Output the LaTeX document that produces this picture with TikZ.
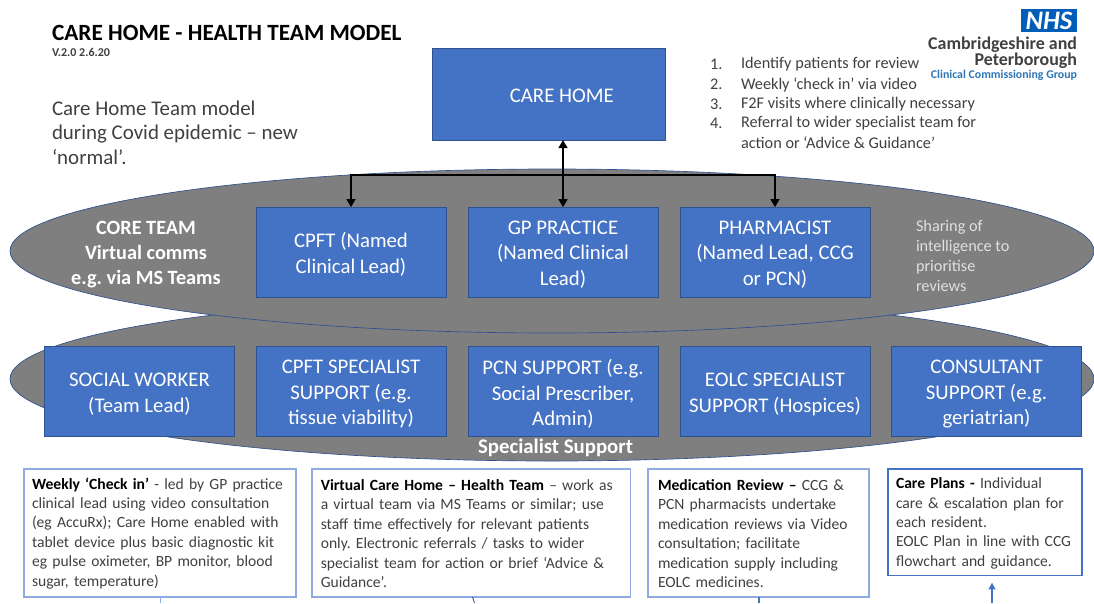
\documentclass[tikz,border=0pt]{standalone}
\usepackage{fontspec}
\setmainfont{Carlito}
\usetikzlibrary{shapes.geometric,arrows.meta,calc}
\definecolor{boxblue}{HTML}{4472C4}
\definecolor{boxedge}{HTML}{2F528F}
\definecolor{oval}{HTML}{7F7F7F}
\definecolor{pale}{HTML}{8FAADC}
\definecolor{body}{HTML}{404040}
\definecolor{ccg}{HTML}{2E75B6}
\definecolor{nhsblue}{HTML}{005EB8}
\newcommand{\boxtext}[2]{\raisebox{#1}[\height][\depth]{\parbox{140pt}{\centering #2}}}
\frenchspacing
\tikzset{
  bluebox/.style={draw=boxedge,line width=0.6pt,fill=boxblue,text=white,align=center,inner sep=0pt,outer sep=0pt,
    minimum width=142.5pt,minimum height=68pt,font=\fontsize{15.6}{19.2}\selectfont},
  team/.style={ellipse,draw=boxedge,line width=0.5pt,fill=oval,inner sep=0pt,outer sep=0pt,minimum width=813pt,minimum height=123pt},
  note/.style={draw=pale,line width=0.9pt,anchor=north west,inner xsep=0pt,inner ysep=0pt,outer sep=0pt,align=left,text=body,
    minimum height=96pt,font=\fontsize{11.7}{14.55}\selectfont},
  ovallabel/.style={text=white,align=center,font=\bfseries\fontsize{15.2}{18.75}\selectfont,inner sep=0pt},
  link/.style={draw=black,line width=2pt,-{Triangle[length=6pt,width=6.5pt]}},
  stub/.style={draw=pale,line width=0.7pt},
  plain/.style={inner sep=0pt,outer sep=0pt,anchor=west,text=body},
  listitem/.style={plain,font=\fontsize{12.2}{14.5}\selectfont},
}
\begin{document}
\begin{tikzpicture}[x=0.75pt,y=-0.75pt]
\useasboundingbox (0,0) rectangle (1094,603);
% ovals
\node[team] (spec) at (552,379) {};
\node[team] (core) at (552,251) {};
% title
\node[plain,text=black,font=\bfseries\fontsize{17.45}{20}\selectfont] (title) at (52,33) {CARE HOME - HEALTH TEAM MODEL};
\node[plain,font=\bfseries\fontsize{9}{10}\selectfont] (ver) at (52,52) {V.2.0 2.6.20};
\node[plain,anchor=north west,align=left,font=\fontsize{15.7}{18.4}\selectfont] (intro) at (52,100.5) {Care Home Team model\\during Covid epidemic – new\\‘normal’.};
% care home
\node[bluebox,minimum width=174.75pt,minimum height=69pt] (care) at (548.5,94) {\raisebox{-1pt}[\height][\depth]{\hspace*{20pt}CARE HOME}};
% list
\node[listitem] (n1) at (710,64) {1.};
\node[listitem] (t1) at (741,64) {Identify patients for review};
\node[listitem] (n2) at (710,84.5) {2.};
\node[listitem] (t2) at (741,84.5) {Weekly ‘check in’ via video};
\node[listitem] (n3) at (710,104) {3.};
\node[listitem] (t3) at (741,104) {F2F visits where clinically necessary};
\node[listitem] (n4) at (710,123.5) {4.};
\node[listitem] (t4) at (741,123.5) {Referral to wider specialist team for};
\node[listitem] (t5) at (741,142.5) {action or ‘Advice \& Guidance’};
% logo
\node[fill=nhsblue,text=white,inner sep=0pt,outer sep=0pt,minimum width=41.6pt,minimum height=17.3pt,font=\bfseries\itshape\fontsize{20}{20}\selectfont] (nhs) at (1049,20.5) {NHS};
\node[plain,anchor=east,font=\bfseries\fontsize{13.45}{14}\selectfont] (cam) at (1077,44.5) {Cambridgeshire and};
\node[plain,anchor=east,font=\bfseries\fontsize{13.45}{14}\selectfont] (pet) at (1077,60.5) {Peterborough};
\node[plain,anchor=east,text=ccg,font=\bfseries\fontsize{8.9}{10}\selectfont] (group) at (1077,75) {Clinical Commissioning Group};
% core team
\node[ovallabel] (corelabel) at (146,255) {CORE TEAM\\Virtual comms\\e.g. via MS Teams};
\node[bluebox] (cpft) at (351,252.5) {\boxtext{-1.5pt}{CPFT (Named\\Clinical Lead)}};
\node[bluebox] (gp) at (563,252.5) {\boxtext{-1.5pt}{GP PRACTICE\\(Named Clinical\\Lead)}};
\node[bluebox] (pharm) at (775,252.5) {\boxtext{-1.5pt}{PHARMACIST\\(Named Lead, CCG\\or PCN)}};
\node[plain,anchor=north west,text=white!88!black,align=left,font=\fontsize{12.2}{15}\selectfont] (share) at (916,220) {Sharing of\\intelligence to\\prioritise\\reviews};
% specialist
\node[bluebox] (social) at (139.5,391.5) {\boxtext{-2pt}{SOCIAL WORKER\\(Team Lead)}};
\node[bluebox] (cspec) at (351,391.5) {\boxtext{-2pt}{CPFT SPECIALIST\\SUPPORT (e.g.\\tissue viability)}};
\node[bluebox] (pcn) at (563,391.5) {\boxtext{-2pt}{PCN SUPPORT (e.g.\\Social Prescriber,\\Admin)}};
\node[bluebox] (eolc) at (775,391.5) {\boxtext{-2pt}{EOLC SPECIALIST\\SUPPORT (Hospices)}};
\node[bluebox] (cons) at (986.5,391.5) {\boxtext{-2pt}{CONSULTANT\\SUPPORT (e.g.\\geriatrian)}};
\node[ovallabel,font=\bfseries\fontsize{15.6}{16}\selectfont] (speclabel) at (555.5,448) {Specialist Support};
% connectors
\coordinate (bar) at (563,175);
\draw[link,{Triangle[length=6pt,width=6.5pt]}-{Triangle[length=6pt,width=6.5pt]}] (gp.north |- care.south) -- (gp.north);
\draw[link] (gp.north |- bar) -- (cpft.north |- bar) -- (cpft.north);
\draw[link] (gp.north |- bar) -- (pharm.north |- bar) -- (pharm.north);
% notes
\node[note,minimum width=204pt,text width=204pt] (n-a) at (24,469) {\hspace*{6pt}\parbox[t]{196pt}{\rule{0pt}{9pt}\textbf{\textcolor{black}{Weekly ‘Check in’}} - led by GP practice\\clinical lead using video consultation\\(eg AccuRx); Care Home enabled with\\tablet device plus basic diagnostic kit\\eg pulse oximeter, BP monitor, blood\\sugar, temperature)}};
\node[note,minimum width=239pt,text width=239pt] (n-b) at (312,469) {\hspace*{6.6pt}\parbox[t]{231pt}{\rule{0pt}{9pt}\textbf{\textcolor{black}{Virtual Care Home – Health Team}} – work as\\a virtual team via MS Teams or similar; use\\staff time effectively for relevant patients\\only. Electronic referrals / tasks to wider\\specialist team for action or brief ‘Advice \&\\Guidance’.}};
\node[note,minimum width=165.75pt,text width=165.75pt] (n-c) at (648,469) {\hspace*{7.5pt}\parbox[t]{158pt}{\rule{0pt}{9pt}\textbf{\textcolor{black}{Medication Review –}} CCG \&\\PCN pharmacists undertake\\medication reviews via Video\\consultation; facilitate\\medication supply including\\EOLC medicines.}};
\node[note,draw=boxblue,minimum width=145.5pt,text width=145.5pt,minimum height=80pt] (n-d) at (888,469) {\hspace*{6pt}\parbox[t]{138pt}{\rule{0pt}{9.7pt}\textbf{\textcolor{black}{Care Plans -}} Individual\\care \& escalation plan for\\each resident.\\EOLC Plan in line with CCG\\flowchart and guidance.}};
% stubs running off the page
\coordinate (s1) at (160,603);
\coordinate (s2) at (474.5,603);
\coordinate (s3) at (759,603);
\coordinate (s4) at (992,603);
\draw[stub] (s1) -- (s1 |- n-a.south);
\draw[stub,draw=boxedge] (s2) -- (472.5,597);
\draw[stub,draw=boxblue,line width=1pt] (s3) -- (s3 |- n-c.south);
\draw[draw=boxblue,line width=1.2pt,-{Triangle[length=5pt,width=5pt]}] (s4) -- ($(s4 |- n-d.south)+(0,7)$);
\end{tikzpicture}
\end{document}
